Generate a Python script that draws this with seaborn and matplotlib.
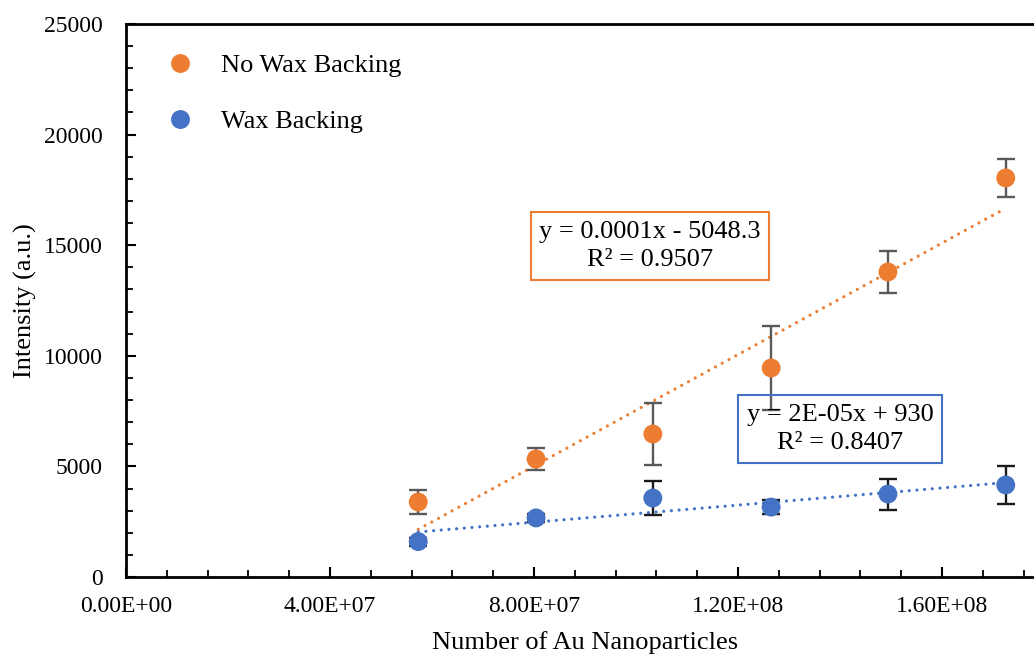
import numpy as np
import pandas as pd
import matplotlib
matplotlib.use("Agg")
import matplotlib.pyplot as plt
import seaborn as sns
from matplotlib.ticker import MultipleLocator, FuncFormatter

# data
n_particles = [5.73e7, 8.04e7, 1.033e8, 1.265e8, 1.494e8, 1.725e8]
no_wax = [3390, 5335, 6465, 9450, 13790, 18040]
no_wax_err = [540, 500, 1400, 1900, 970, 850]
wax = [1600, 2670, 3570, 3160, 3750, 4160]
wax_err = [180, 200, 770, 300, 700, 860]
series_names = ["No Wax Backing", "Wax Backing"]
eq_labels = ["y = 0.0001x - 5048.3\nR² = 0.9507", "y = 2E-05x + 930\nR² = 0.8407"]

orange = "#ED7D31"
blue = "#4472C4"

df = pd.DataFrame({
    "x": n_particles * 2,
    "y": no_wax + wax,
    "err": no_wax_err + wax_err,
    "series": [series_names[0]] * 6 + [series_names[1]] * 6,
})

sns.set_style("white")
plt.rcParams["font.family"] = ["Liberation Serif", "DejaVu Serif"]
plt.rcParams["text.color"] = "black"
plt.rcParams["axes.labelcolor"] = "black"

fig = plt.figure(figsize=(10.34, 6.58), dpi=100)
ax = fig.add_axes([126 / 1034, 1 - 577 / 658, (1044 - 126) / 1034, 553 / 658])

# trendlines (dotted, fitted over the data range)
for name, col in zip(series_names, [orange, blue]):
    sub = df[df["series"] == name]
    sns.regplot(data=sub, x="x", y="y", ax=ax, scatter=False, ci=None,
                truncate=True, color=col,
                line_kws={"ls": (0, (0.01, 2.4)), "lw": 2.3,
                          "dash_capstyle": "round"})

# error bars
for name, ecol in zip(series_names, ["#595959", "#1a1a1a"]):
    sub = df[df["series"] == name]
    ax.errorbar(sub["x"], sub["y"], yerr=sub["err"], fmt="none", ecolor=ecol,
                elinewidth=1.7, capsize=6.5, capthick=1.7, zorder=3)

sns.scatterplot(data=df, x="x", y="y", hue="series", palette=[orange, blue],
                s=185, linewidth=0, ax=ax, zorder=4)

ax.set_xlim(0, 1.8e8)
ax.set_ylim(0, 25000)
ax.xaxis.set_major_locator(MultipleLocator(4e7))
ax.xaxis.set_minor_locator(MultipleLocator(8e6))
ax.yaxis.set_major_locator(MultipleLocator(5000))
ax.yaxis.set_minor_locator(MultipleLocator(1000))
ax.xaxis.set_major_formatter(FuncFormatter(lambda v, p: f"{v:.2E}"))
ax.tick_params(which="both", direction="in", colors="black", labelsize=17,
               left=True, bottom=True)
ax.tick_params(which="major", length=7, width=1.5)
ax.tick_params(which="minor", length=5, width=1.3)
ax.tick_params(axis="x", pad=14)
ax.tick_params(axis="y", pad=17)

for side in ["left", "bottom", "top"]:
    ax.spines[side].set_color("black")
    ax.spines[side].set_linewidth(2)
ax.spines["right"].set_visible(False)

ax.set_xlabel("Number of Au Nanoparticles", fontsize=19, labelpad=10)
ax.set_ylabel("Intensity (a.u.)", fontsize=19)
ax.yaxis.set_label_coords(-0.097, 0.5)

handles, labels = ax.get_legend_handles_labels()
ax.legend(handles, labels, loc="upper left", bbox_to_anchor=(0.004, 0.99),
          frameon=False, fontsize=19, handletextpad=0.55, labelspacing=1.25,
          markerscale=1.0)

# trendline equation boxes
ax.text(1.027e8, 14960, eq_labels[0], ha="center", va="center", fontsize=19,
        linespacing=1.4,
        bbox=dict(boxstyle="square,pad=0.32", fc="white", ec=orange, lw=1.5))
ax.text(1.40e8, 6690, eq_labels[1], ha="center", va="center", fontsize=19,
        linespacing=1.4, zorder=5,
        bbox=dict(boxstyle="square,pad=0.32", fc="none", ec=blue, lw=1.5))

fig.savefig("out.png", dpi=100)
